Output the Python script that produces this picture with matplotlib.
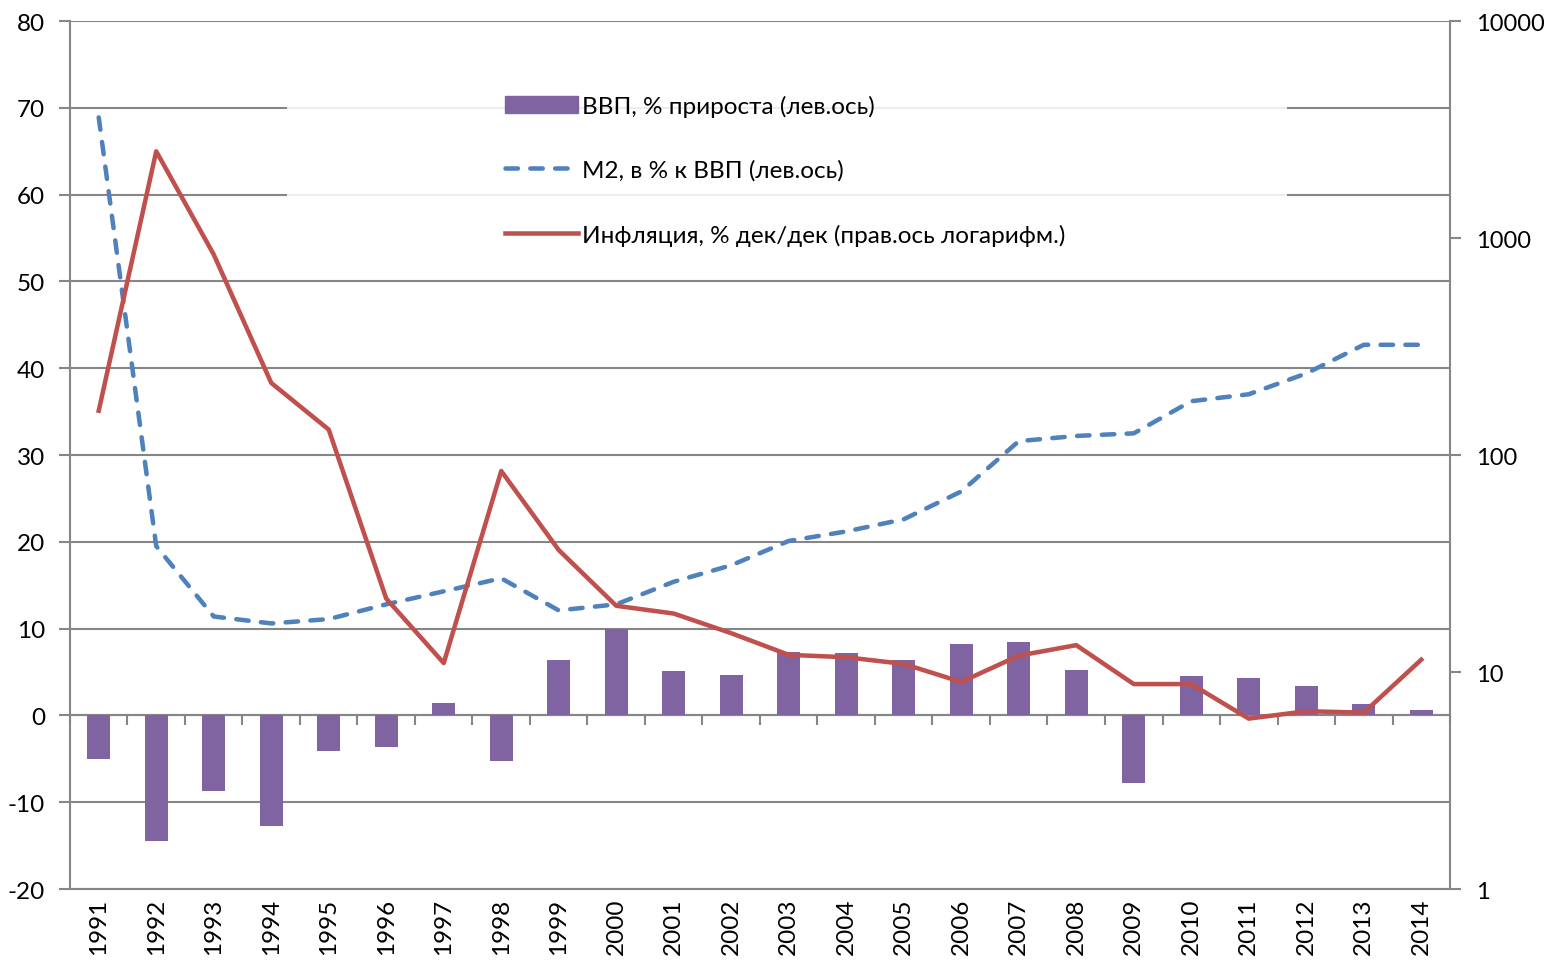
import numpy as np
import matplotlib
matplotlib.use('Agg')
import matplotlib.pyplot as plt
from matplotlib.patches import Rectangle
from matplotlib.lines import Line2D
from matplotlib.ticker import FixedLocator, NullFormatter, NullLocator

plt.rcParams['font.family'] = ['Lato', 'DejaVu Sans']
plt.rcParams['axes.unicode_minus'] = False

years = [str(y) for y in range(1991, 2015)]
# GDP growth, % (left axis)
gdp = [-5.0, -14.5, -8.7, -12.7, -4.1, -3.6, 1.4, -5.3, 6.4, 10.0, 5.1, 4.7,
       7.3, 7.2, 6.4, 8.2, 8.5, 5.2, -7.8, 4.5, 4.3, 3.4, 1.3, 0.6]
# M2, % of GDP (left axis)
m2 = [68.9, 19.5, 11.4, 10.6, 11.1, 12.8, 14.3, 15.8, 12.1, 12.8, 15.4, 17.3,
      20.1, 21.2, 22.6, 25.8, 31.6, 32.2, 32.5, 36.2, 37.0, 39.4, 42.7, 42.7]
# inflation, % dec/dec (right axis, log)
infl = [160, 2509, 840, 215, 131, 21.8, 11.0, 84.4, 36.5, 20.2, 18.6, 15.1,
        12.0, 11.7, 10.9, 9.0, 11.9, 13.3, 8.8, 8.8, 6.1, 6.6, 6.5, 11.4]

lab_gdp = 'ВВП, % прироста (лев.ось)'
lab_m2 = 'М2, в % к ВВП (лев.ось)'
lab_inf = 'Инфляция, % дек/дек (прав.ось логарифм.)'

grey = '#868686'
c_bar = '#8064A2'
c_m2 = '#4F81BD'
c_inf = '#C0504D'

fig = plt.figure(figsize=(15.48, 9.62), dpi=100)
ax = fig.add_axes([0.0452, 0.0748, 0.8915, 0.9023])
x = np.arange(len(years))

ax.set_axisbelow(True)
ax.bar(x, gdp, width=0.4, color=c_bar, zorder=2)
ax.plot(x, m2, color=c_m2, lw=3.25, dashes=(2.75, 2.75), dash_capstyle='round', zorder=3)

ax.set_xlim(-0.5, len(years) - 0.5)
ax.set_ylim(-20, 80)
ax.set_yticks(np.arange(-20, 81, 10))
ax.yaxis.grid(True, color=grey, lw=1.5)
ax.set_xticks(x)
ax.set_xticklabels(years, rotation=90)
ax.tick_params(axis='x', length=0, pad=6, labelsize=17.5)
ax.tick_params(axis='y', length=8, width=1.5, color=grey, pad=10, labelsize=17.5)
for s in ['top', 'right']:
    ax.spines[s].set_visible(False)
for s in ['left', 'bottom']:
    ax.spines[s].set_color(grey)
    ax.spines[s].set_linewidth(1.5)

# category axis crossing at zero
sec = ax.secondary_xaxis(0.2)
sec.xaxis.set_major_locator(FixedLocator(np.arange(-0.5, len(years), 1.0)))
sec.xaxis.set_major_formatter(NullFormatter())
sec.tick_params(axis='x', length=7, width=1.5, color=grey, direction='out')
sec.spines['bottom'].set_color(grey)
sec.spines['bottom'].set_linewidth(1.5)

# legend background (semi-transparent white)
ax.add_patch(Rectangle((0.157, 0.72), 0.725, 0.22, transform=ax.transAxes,
                       facecolor='white', edgecolor='none', alpha=0.85, zorder=1))

ax2 = ax.twinx()
ax2.plot(x, infl, color=c_inf, lw=3.25, zorder=3)
ax2.set_yscale('log')
ax2.set_ylim(1, 10000)
ax2.yaxis.set_major_locator(FixedLocator([1, 10, 100, 1000, 10000]))
ax2.yaxis.set_minor_locator(NullLocator())
ax2.set_yticklabels(['1', '10', '100', '1000', '10000'])
ax2.tick_params(axis='y', length=8, width=1.5, color=grey, pad=11, labelsize=17)
for s in ['top', 'left', 'bottom']:
    ax2.spines[s].set_visible(False)
ax2.spines['right'].set_color(grey)
ax2.spines['right'].set_linewidth(1.5)

handles = [Rectangle((0, 0), 1, 1, color=c_bar),
           Line2D([], [], color=c_m2, lw=3.25, dashes=(2.75, 2.75), dash_capstyle='round'),
           Line2D([], [], color=c_inf, lw=3.25)]
ax2.legend(handles, [lab_gdp, lab_m2, lab_inf], loc='upper left',
           bbox_to_anchor=(0.315, 0.915), frameon=False, fontsize=17.5,
           handlelength=3.0, handletextpad=0.2, labelspacing=1.75,
           borderpad=0, borderaxespad=0)

fig.savefig('out.png', dpi=100)
